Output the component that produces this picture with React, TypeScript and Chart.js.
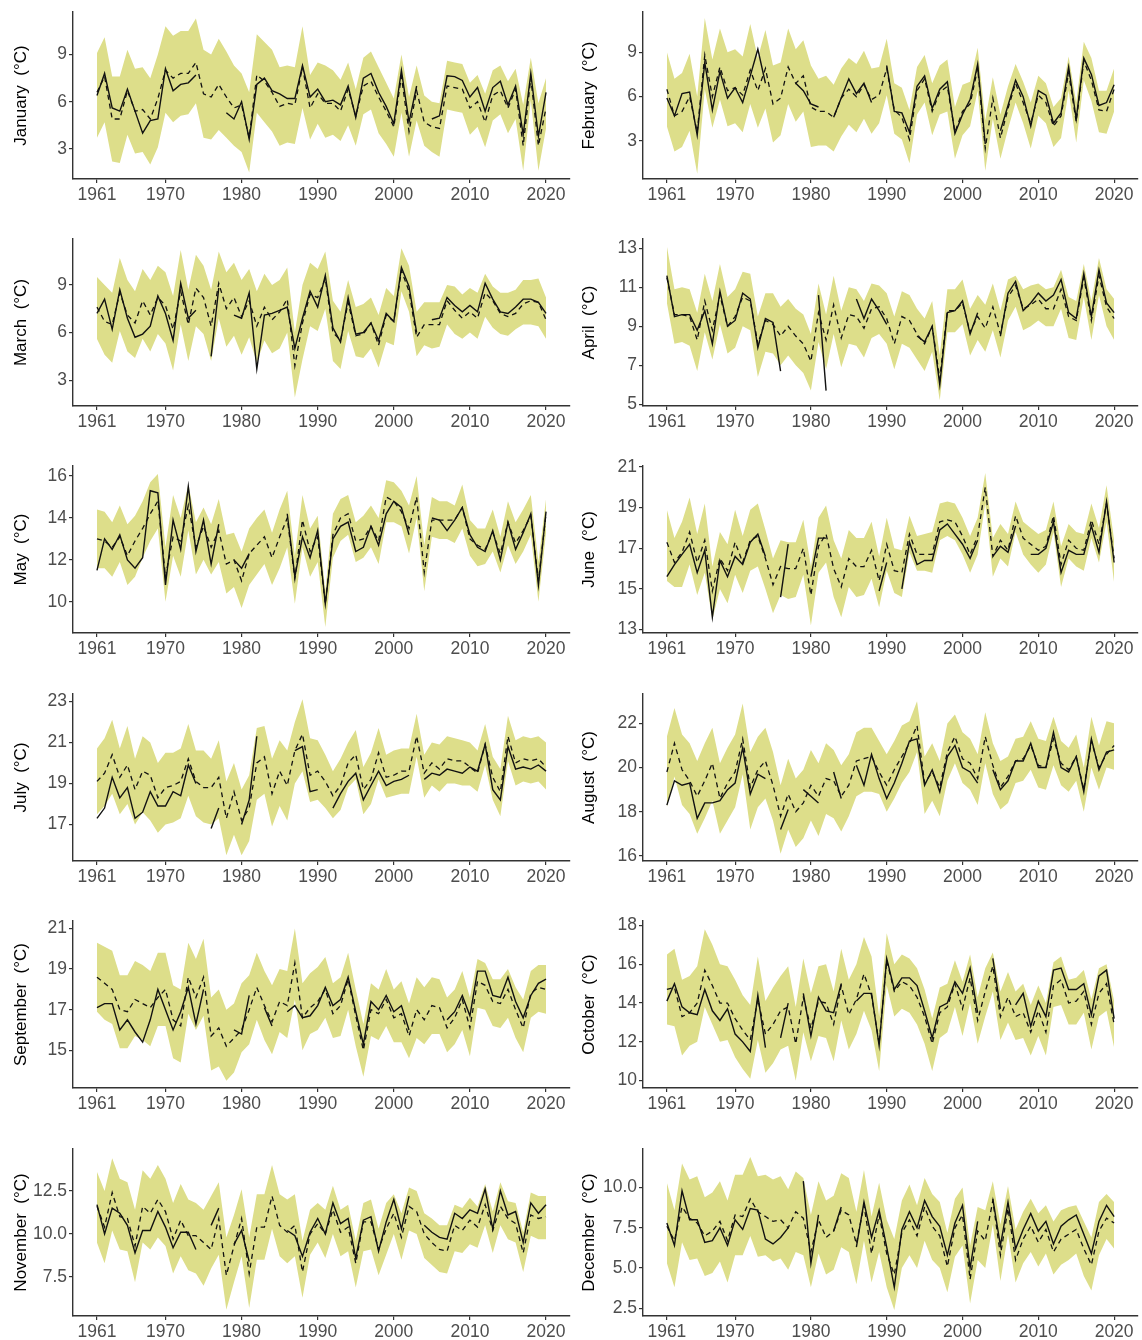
import React, { useEffect, useRef } from 'react';
import { Chart, registerables } from 'chart.js';

Chart.register(...registerables);

// ---------- data ----------
const years = [
  1961, 1962, 1963, 1964, 1965, 1966, 1967, 1968, 1969, 1970,
  1971, 1972, 1973, 1974, 1975, 1976, 1977, 1978, 1979, 1980,
  1981, 1982, 1983, 1984, 1985, 1986, 1987, 1988, 1989, 1990,
  1991, 1992, 1993, 1994, 1995, 1996, 1997, 1998, 1999, 2000,
  2001, 2002, 2003, 2004, 2005, 2006, 2007, 2008, 2009, 2010,
  2011, 2012, 2013, 2014, 2015, 2016, 2017, 2018, 2019, 2020,
];
const xTickYears = [1961, 1970, 1980, 1990, 2000, 2010, 2020];

const janLower = [3.7, 4.7, 2.2, 2.1, 3.9, 2.7, 2.8, 2.0, 3.1, 5.3, 4.7, 5.1, 5.2, 5.9, 3.7, 3.6, 4.2, 3.7, 3.2, 2.8, 1.5, 5.3, 4.7, 4.1, 3.2, 3.4, 3.3, 5.6, 3.6, 4.6, 3.7, 3.9, 3.5, 4.5, 3.2, 5.2, 5.5, 4.0, 3.3, 2.5, 5.3, 2.5, 4.8, 3.2, 2.8, 2.5, 5.5, 5.4, 5.3, 3.9, 4.4, 3.1, 4.8, 5.2, 4.0, 4.9, 1.6, 6.1, 1.6, 4.3];
const janUpper = [9.1, 10.1, 7.6, 7.6, 9.3, 8.1, 8.2, 7.5, 9.0, 10.8, 10.2, 10.5, 10.5, 11.3, 9.3, 9.0, 10.0, 9.2, 8.3, 7.8, 6.6, 10.3, 9.8, 9.3, 8.2, 8.3, 8.2, 10.8, 7.7, 8.5, 8.3, 8.0, 7.4, 8.5, 6.8, 8.8, 9.2, 8.2, 7.2, 6.2, 9.0, 6.3, 8.3, 6.4, 6.0, 5.9, 8.6, 8.5, 8.4, 7.2, 7.7, 6.5, 8.0, 8.3, 7.3, 8.1, 5.8, 8.8, 5.9, 7.5];
const janObs = [6.4, 7.8, 5.6, 5.4, 6.8, 5.4, 4.0, 4.8, 4.9, 8.1, 6.7, 7.1, 7.2, 7.7, null, null, null, 5.3, 4.9, 6.0, 3.6, 7.1, 7.5, 6.7, 6.5, 6.2, 6.2, 8.3, 6.3, 6.8, 6.0, 6.1, 5.8, 7.0, 5.0, 7.5, 7.8, 6.6, 5.7, 4.6, 8.0, 4.7, 7.0, null, 4.9, 5.1, 7.65, 7.6, 7.35, 6.3, 6.9, 5.4, 6.9, 7.3, 5.8, 7.0, 3.9, 7.8, 3.8, 6.6];
const janSim = [6.6, 7.6, 4.9, 4.9, 6.7, 5.4, 5.5, 4.9, 6.2, 8.0, 7.5, 7.8, 7.8, 8.5, 6.5, 6.3, 7.1, 6.3, 5.6, 5.8, 3.7, 7.7, 7.3, 6.6, 5.7, 5.9, 5.8, 8.2, 5.6, 6.5, 5.9, 5.9, 5.4, 6.8, 5.1, 7.0, 7.3, 6.3, 5.4, 4.4, 7.6, 4.1, 6.7, 4.7, 4.4, 4.3, 7.0, 6.9, 6.8, 5.6, 6.0, 4.7, 6.4, 6.7, 5.6, 6.8, 3.2, 7.5, 3.2, 5.6];

const febLower = [4.0, 2.3, 2.6, 3.7, 0.8, 6.5, 3.9, 5.8, 4.0, 4.2, 3.6, 5.5, 3.9, 5.2, 2.9, 3.4, 5.5, 4.3, 5.0, 2.6, 2.7, 2.7, 2.3, 3.3, 4.1, 3.6, 4.5, 3.5, 4.2, 6.1, 3.5, 3.1, 1.5, 4.8, 5.6, 3.4, 4.8, 5.0, 1.8, 3.4, 4.0, 6.4, 1.0, 4.5, 1.8, 3.8, 5.6, 4.2, 2.5, 4.7, 4.2, 2.6, 3.2, 6.4, 2.9, 7.1, 5.7, 3.6, 3.5, 5.0];
const febUpper = [9.0, 7.2, 7.6, 8.9, 6.0, 11.3, 8.5, 10.6, 9.0, 9.2, 8.7, 10.9, 8.6, 10.5, 8.1, 8.3, 10.6, 9.2, 9.8, 8.1, 7.2, 7.4, 6.8, 7.9, 8.6, 8.2, 9.1, 7.9, 8.0, 9.9, 6.9, 6.6, 5.1, 8.0, 8.8, 6.9, 8.1, 8.5, 5.3, 6.8, 7.0, 9.3, 4.4, 7.3, 4.8, 6.7, 8.2, 7.0, 5.6, 7.4, 6.9, 5.3, 5.9, 8.7, 5.6, 9.7, 8.6, 6.4, 6.4, 7.9];
const febObs = [5.9, 4.7, 6.2, 6.3, 3.4, 8.3, 5.1, 7.7, 5.9, 6.6, 5.6, 7.4, 9.2, 6.9, null, null, null, 6.9, 6.4, 5.5, 5.3, null, 4.6, 5.9, 7.2, 6.2, 6.9, 5.6, null, 8.1, 5.0, 4.9, 3.6, 6.7, 7.4, 5.2, 6.5, 7.0, 3.5, 4.8, 5.8, 8.2, 2.8, null, 3.7, 5.4, 7.1, 6.0, 4.0, 6.4, 6.1, 4.2, 4.9, 8.0, 4.5, 8.6, 7.5, 5.4, 5.6, 6.8];
const febSim = [6.5, 4.7, 5.0, 6.0, 3.6, 8.8, 6.0, 8.0, 6.4, 6.6, 6.1, 7.8, 6.4, 7.9, 5.5, 5.9, 8.0, 6.9, 7.4, 5.3, 5.0, 5.0, 4.6, 5.9, 6.5, 6.0, 6.8, 5.8, 6.1, 7.9, 5.1, 4.6, 3.1, 6.4, 7.2, 5.0, 6.3, 6.7, 3.6, 5.0, 5.5, 7.9, 2.5, 5.9, 3.2, 5.2, 6.9, 5.6, 4.2, 6.1, 5.6, 4.0, 4.7, 7.6, 4.3, 8.4, 7.1, 5.1, 5.0, 6.5];

const marLower = [5.6, 4.6, 4.1, 6.1, 4.8, 4.4, 5.6, 4.8, 5.9, 5.3, 3.6, 6.5, 4.2, 6.4, 5.9, 4.2, 6.9, 5.1, 5.8, 4.6, 5.7, 4.1, 5.5, 4.7, 5.0, 6.0, 1.9, 4.3, 6.4, 6.1, 7.5, 4.2, 3.7, 6.1, 4.5, 4.4, 5.0, 3.8, 5.4, 5.2, 8.6, 7.3, 4.5, 5.2, 5.0, 5.1, 6.5, 5.9, 5.6, 6.0, 5.6, 7.0, 6.3, 5.9, 5.8, 6.2, 6.5, 6.5, 6.4, 5.6];
const marUpper = [9.5, 9.0, 8.5, 10.7, 9.3, 8.6, 10.0, 9.3, 10.2, 9.8, 8.3, 11.2, 8.7, 10.9, 10.2, 8.7, 11.1, 9.8, 10.4, 9.3, 10.0, 8.6, 9.7, 9.0, 9.3, 10.1, 6.0, 9.0, 10.4, 10.0, 11.1, 8.0, 7.3, 9.3, 7.6, 7.8, 8.2, 7.1, 8.8, 8.3, 11.3, 10.2, 7.3, 7.9, 7.9, 7.9, 9.0, 8.9, 8.4, 8.8, 8.5, 9.7, 8.9, 8.5, 8.5, 8.7, 9.3, 9.3, 9.4, 8.2];
const marObs = [7.2, 8.1, 6.2, 8.7, 6.9, 5.7, 5.9, 6.4, 8.3, 7.2, 5.5, 9.1, 6.9, 7.4, null, 4.5, 8.8, null, 7.1, 6.9, 8.5, 3.7, 7.1, 7.2, 7.4, 7.6, 5.0, 6.9, 8.6, 7.6, 9.6, 6.3, 5.4, 8.2, 5.9, 6.0, 6.6, 5.5, 7.2, 6.7, 10.1, 8.9, 6.0, null, 6.8, 6.9, 8.2, 7.7, 7.3, 7.7, 7.3, 9.1, 8.1, 7.3, 7.2, 7.6, 8.1, 8.1, 7.9, 7.2];
const marSim = [7.6, 6.7, 6.5, 8.5, 7.1, 6.6, 8.0, 7.1, 8.2, 7.7, 6.2, 8.6, 6.5, 8.8, 8.2, 6.4, 9.1, 7.5, 8.2, 7.0, 8.0, 6.4, 7.6, 6.8, 7.3, 8.1, 3.9, 6.6, 8.4, 8.2, 9.4, 6.0, 5.5, 7.9, 5.8, 5.9, 6.6, 5.2, 7.1, 6.7, 9.9, 8.6, 5.7, 6.5, 6.5, 6.5, 8.0, 7.4, 6.9, 7.3, 6.9, 8.5, 8.0, 7.2, 7.0, 7.2, 7.8, 8.0, 7.9, 6.8];

const aprLower = [10.2, 8.1, 8.2, 8.0, 6.7, 8.7, 7.3, 9.1, 7.6, 7.9, 9.0, 8.8, 6.4, 7.7, 7.6, 7.0, 7.5, 7.0, 6.6, 5.7, 8.2, 6.8, 8.6, 6.9, 8.1, 8.0, 7.4, 8.4, 8.6, 8.1, 6.8, 8.1, 7.9, 7.3, 6.7, 7.7, 5.2, 8.7, 8.7, 9.1, 7.5, 8.3, 7.7, 8.8, 7.4, 9.3, 10.0, 8.8, 9.0, 9.3, 9.0, 9.0, 9.9, 8.4, 8.3, 10.5, 8.3, 10.6, 9.0, 8.3];
const aprUpper = [13.1, 10.9, 11.0, 10.9, 9.7, 11.7, 10.3, 12.2, 10.5, 10.9, 11.8, 11.7, 9.5, 10.7, 10.7, 10.0, 10.4, 9.9, 9.6, 8.6, 11.2, 9.6, 11.6, 9.8, 11.0, 10.9, 10.3, 11.2, 11.1, 10.7, 9.5, 10.8, 10.6, 9.9, 9.4, 10.3, 7.5, 10.9, 10.9, 11.4, 9.9, 10.6, 10.1, 11.2, 9.8, 11.4, 11.6, 10.9, 11.1, 11.2, 10.9, 11.0, 11.9, 10.5, 10.3, 12.2, 10.3, 12.5, 10.9, 10.4];
const aprObs = [11.6, 9.5, 9.6, 9.6, 8.8, 9.8, 8.1, 10.8, 9.0, 9.3, 10.7, 10.4, 7.9, 9.4, 9.2, 6.7, null, null, null, null, 10.6, 5.7, null, null, null, 10.4, 9.4, 10.4, 9.8, 9.1, null, null, null, 8.5, 8.2, 9.0, 6.0, 9.7, 9.8, 10.3, 8.6, 9.7, null, null, 8.5, 10.7, 11.3, 9.8, 10.2, 10.7, 10.3, 10.6, 11.4, 9.7, 9.4, 11.7, 9.5, 11.9, 10.2, 9.7];
const aprSim = [11.5, 9.6, 9.6, 9.5, 8.3, 10.3, 8.8, 10.6, 9.0, 9.5, 10.5, 10.3, 8.1, 9.3, 9.1, 8.5, 9.0, 8.5, 8.1, 7.2, 9.7, 8.3, 10.1, 8.4, 9.6, 9.5, 8.9, 9.9, 10.0, 9.4, 8.1, 9.5, 9.3, 8.6, 8.1, 9.0, 6.3, 9.8, 9.8, 10.2, 8.7, 9.5, 8.9, 10.0, 8.6, 10.5, 11.1, 9.9, 10.1, 10.4, 9.9, 9.9, 10.9, 9.5, 9.3, 11.5, 9.3, 11.6, 10.0, 9.4];

const mayLower = [11.6, 11.6, 11.2, 11.9, 10.8, 11.2, 12.1, 12.9, 13.5, 10.0, 12.2, 11.2, 13.4, 11.3, 12.0, 11.3, 11.9, 10.4, 10.7, 9.7, 10.8, 11.3, 11.8, 10.8, 11.6, 12.6, 9.9, 12.6, 11.2, 11.9, 8.8, 12.1, 12.9, 13.2, 11.9, 12.1, 12.6, 11.8, 13.8, 13.8, 13.6, 12.3, 14.0, 10.5, 13.1, 13.0, 13.0, 12.8, 13.5, 12.2, 11.7, 11.8, 12.4, 11.4, 12.7, 11.8, 12.4, 13.2, 10.0, 13.3];
const mayUpper = [14.4, 14.3, 13.8, 14.6, 13.7, 14.1, 14.8, 15.7, 16.1, 12.6, 15.1, 14.0, 15.6, 13.8, 14.5, 13.7, 14.9, 13.2, 13.3, 12.4, 13.5, 14.0, 14.4, 13.3, 14.4, 15.3, 12.2, 15.1, 13.5, 14.1, 10.5, 14.2, 14.9, 15.1, 13.8, 14.1, 14.6, 14.0, 15.8, 15.7, 15.3, 14.6, 16.0, 12.7, 15.0, 14.8, 14.8, 14.6, 15.6, 13.9, 13.5, 13.5, 14.4, 13.1, 14.8, 13.8, 14.4, 15.1, 11.9, 14.9];
const mayObs = [11.5, 13.0, 12.5, 13.2, 12.0, 11.6, 12.1, 15.3, 15.2, 10.8, 13.9, 12.5, 15.5, 12.4, 13.9, 11.8, 13.7, null, 12.0, 11.6, 12.3, null, null, null, null, 14.2, 11.2, 13.1, 12.1, 13.4, 9.9, 13.0, 13.6, 13.8, 12.4, 12.6, 13.6, 12.7, 14.2, 14.8, 14.5, 13.2, null, null, 14.0, 13.9, 13.4, 13.9, 14.5, 13.2, 12.6, 12.4, 13.4, 12.0, 13.8, 12.5, 13.3, 14.2, 10.8, 14.3];
const maySim = [13.0, 12.9, 12.6, 13.1, 12.2, 12.9, 13.5, 14.2, 14.8, 11.2, 13.1, 12.9, 14.6, 12.6, 13.6, 12.6, 13.4, 11.8, 12.0, 11.0, 12.3, 12.7, 13.1, 12.1, 13.1, 14.0, 11.1, 13.9, 12.4, 13.1, 9.9, 13.2, 14.0, 14.2, 12.9, 13.0, 13.6, 12.9, 15.0, 14.8, 14.3, 13.5, 15.0, 11.4, 13.9, 13.9, 13.9, 13.9, 14.5, 13.0, 12.7, 12.5, 13.3, 12.3, 13.8, 12.8, 13.4, 14.1, 11.0, 14.2];

const junLower = [15.4, 15.1, 15.1, 16.2, 14.7, 15.8, 13.5, 15.0, 14.3, 15.7, 14.8, 15.9, 16.1, 15.0, 13.8, 14.7, 14.5, 14.6, 15.7, 13.2, 15.8, 16.3, 14.6, 13.6, 15.1, 14.6, 14.7, 15.5, 14.1, 15.9, 14.8, 14.6, 16.8, 15.9, 15.9, 15.8, 17.4, 17.6, 17.4, 16.7, 15.8, 16.7, 19.2, 15.6, 16.5, 16.1, 17.8, 16.7, 16.2, 15.8, 16.2, 17.8, 15.1, 16.5, 16.1, 15.9, 17.5, 16.3, 18.3, 15.3];
const junUpper = [18.9, 17.5, 18.3, 19.5, 17.7, 19.2, 16.1, 17.8, 17.2, 18.9, 17.6, 18.9, 19.2, 17.9, 16.5, 17.4, 17.3, 17.3, 18.4, 16.1, 18.5, 19.1, 17.4, 16.5, 17.9, 17.5, 17.5, 18.3, 16.6, 18.5, 17.0, 16.9, 18.6, 17.6, 17.7, 17.8, 19.2, 19.3, 19.2, 18.5, 17.6, 18.5, 20.7, 17.5, 18.2, 17.7, 19.3, 18.3, 18.0, 17.7, 17.9, 19.3, 17.1, 18.2, 17.8, 17.7, 19.2, 18.0, 20.1, 17.4];
const junObs = [15.6, 16.2, 16.7, 17.2, 15.8, 16.9, 13.6, 16.4, 15.6, 16.6, 16.2, 17.3, 17.7, 16.6, null, 14.6, 17.2, null, null, 15.6, 17.5, 17.5, null, null, null, null, null, null, 14.9, 16.3, null, 15.0, 17.3, 16.2, 16.4, 16.4, 17.9, 18.2, 17.7, 17.2, 16.5, 17.4, null, 16.6, 17.1, 16.8, 18.1, null, 16.7, 16.7, 17.0, 18.3, 15.8, 16.9, 16.7, 16.7, 18.1, 16.8, 19.3, 16.3];
const junSim = [17.3, 16.3, 16.8, 17.8, 16.3, 17.4, 14.9, 16.5, 15.9, 17.3, 16.3, 17.4, 17.6, 16.5, 15.2, 16.1, 16.0, 16.0, 17.0, 14.7, 17.1, 17.7, 16.0, 15.1, 16.5, 16.1, 16.1, 16.9, 15.4, 17.2, 15.9, 15.8, 17.7, 16.7, 16.7, 16.7, 18.3, 18.4, 18.3, 17.6, 16.7, 17.6, 20.0, 16.6, 17.4, 16.9, 18.6, 17.5, 17.2, 16.9, 17.1, 18.6, 16.2, 17.4, 17.0, 16.9, 18.4, 17.2, 19.2, 16.5];

const julLower = [17.5, 17.9, 18.5, 17.5, 18.0, 17.0, 17.6, 17.2, 16.6, 17.0, 17.1, 17.3, 18.4, 17.4, 17.1, 17.0, 17.3, 15.5, 16.5, 15.5, 16.2, 18.2, 18.5, 16.9, 17.9, 17.2, 19.0, 19.6, 18.1, 18.2, 17.8, 17.3, 17.7, 18.8, 19.2, 17.5, 18.0, 19.2, 18.3, 18.4, 18.5, 18.5, 20.3, 18.3, 18.9, 18.6, 19.0, 19.0, 18.9, 18.9, 18.6, 19.9, 18.2, 17.4, 20.1, 18.9, 19.1, 19.0, 19.1, 18.7];
const julUpper = [20.7, 21.2, 22.1, 20.7, 21.8, 20.2, 21.3, 21.0, 20.0, 20.5, 20.5, 20.7, 21.9, 20.6, 20.6, 20.2, 21.1, 19.1, 20.0, 18.7, 19.4, 21.7, 21.8, 20.2, 21.1, 20.6, 22.0, 23.1, 21.2, 21.1, 20.4, 19.6, 20.2, 21.0, 21.6, 19.8, 20.5, 21.7, 20.4, 20.6, 20.7, 20.7, 22.4, 20.4, 21.0, 20.9, 21.3, 21.2, 21.1, 21.0, 20.6, 21.9, 20.3, 19.7, 22.3, 21.1, 21.3, 21.2, 21.3, 21.0];
const julObs = [17.3, 17.8, 19.3, 18.3, 18.8, 17.3, 17.6, 18.6, 17.9, 17.9, 18.6, 18.4, 19.9, 19.0, null, 16.8, 17.8, null, null, 17.0, 18.2, 21.3, null, null, null, null, 20.6, 20.8, 18.6, 18.7, null, 17.8, 18.5, 19.1, 19.5, 18.2, 18.9, 19.6, 18.9, 19.1, 19.2, 19.4, null, 19.2, 19.5, 19.4, 19.7, 19.6, 19.5, 19.8, 19.6, 20.9, 18.7, 18.2, 20.8, 19.7, 19.8, 19.7, 19.9, 19.6];
const julSim = [19.1, 19.5, 20.4, 19.3, 19.9, 18.7, 19.6, 19.4, 18.3, 18.8, 18.9, 19.1, 20.2, 19.1, 18.8, 18.8, 19.3, 17.3, 18.6, 17.2, 17.8, 20.0, 20.3, 18.5, 19.6, 18.9, 20.6, 21.4, 19.4, 19.6, 19.1, 18.4, 18.9, 20.0, 20.4, 18.7, 19.2, 20.5, 19.3, 19.4, 19.6, 19.6, 21.3, 19.5, 20.0, 19.7, 20.2, 20.1, 20.1, 19.8, 19.5, 20.9, 19.3, 18.6, 21.3, 20.0, 20.2, 20.1, 20.2, 19.8];

const augLower = [18.2, 19.6, 18.3, 17.9, 17.0, 17.7, 18.5, 17.0, 17.6, 18.2, 19.7, 17.2, 18.2, 18.6, 17.6, 16.1, 17.2, 16.4, 16.8, 17.6, 16.9, 17.9, 17.7, 17.1, 17.8, 18.7, 18.9, 18.9, 18.8, 18.0, 18.6, 19.3, 19.8, 20.7, 17.9, 18.5, 17.8, 19.4, 20.2, 19.3, 19.0, 18.3, 20.2, 18.8, 18.1, 18.4, 19.3, 19.4, 19.9, 19.1, 19.0, 20.1, 19.2, 18.9, 19.4, 18.0, 20.0, 19.0, 20.0, 19.9];
const augUpper = [21.4, 22.7, 21.5, 21.1, 20.3, 21.1, 21.8, 20.2, 20.9, 21.5, 22.9, 20.7, 21.4, 21.8, 20.7, 19.2, 20.4, 19.5, 19.9, 20.8, 20.2, 21.1, 20.8, 20.1, 20.6, 21.6, 21.8, 21.8, 21.2, 20.6, 21.2, 21.9, 22.1, 23.0, 20.5, 21.1, 20.3, 22.0, 22.4, 21.6, 21.3, 20.6, 22.5, 21.1, 20.3, 20.5, 21.3, 21.4, 22.1, 21.3, 21.2, 22.3, 21.2, 20.9, 21.5, 20.0, 22.3, 21.0, 22.1, 22.0];
const augObs = [18.3, 19.4, 19.2, 19.3, 17.7, 18.4, 18.4, 18.5, 19.0, 19.3, 20.9, 18.8, 19.7, 19.5, null, 17.2, 18.1, null, 19.0, 18.7, 18.4, null, 19.8, 18.6, null, 20.1, 19.2, 20.6, 19.5, 18.6, 19.3, 20.2, 21.2, 21.3, 19.2, 19.9, 18.9, 20.5, 21.0, 20.0, 19.8, 19.3, null, 19.9, 19.0, 19.4, 20.3, 20.3, 21.1, 20.0, 20.0, 21.6, 20.0, 19.8, 20.5, 18.9, 21.3, 19.9, 20.7, 20.8];
const augSim = [19.8, 21.1, 19.9, 19.4, 18.7, 19.4, 20.2, 18.6, 19.3, 19.8, 21.3, 19.1, 19.9, 20.3, 19.2, 17.8, 18.8, 18.0, 18.4, 19.2, 18.7, 19.5, 19.4, 18.7, 19.2, 20.3, 20.4, 20.5, 19.8, 19.2, 19.9, 20.5, 21.1, 21.9, 19.3, 19.8, 19.1, 20.7, 21.4, 20.4, 20.2, 19.5, 21.4, 20.1, 19.1, 19.6, 20.3, 20.4, 21.0, 20.1, 20.0, 21.3, 20.2, 19.9, 20.5, 19.0, 21.2, 20.0, 20.6, 21.0];

const sepLower = [16.9, 16.5, 16.3, 15.1, 15.1, 15.7, 15.5, 15.2, 16.2, 16.2, 14.6, 14.4, 16.8, 16.0, 16.7, 14.0, 14.2, 13.5, 13.9, 14.9, 15.3, 16.5, 15.5, 14.8, 15.9, 15.6, 17.5, 15.0, 15.8, 16.0, 16.6, 15.6, 15.7, 17.0, 15.2, 13.7, 15.7, 15.5, 16.2, 15.4, 15.4, 14.6, 15.6, 15.3, 15.8, 15.8, 14.9, 15.3, 16.0, 14.7, 17.1, 17.0, 16.2, 16.1, 16.6, 15.6, 14.9, 16.6, 16.9, 16.8];
const sepUpper = [20.3, 20.1, 19.9, 18.7, 18.7, 19.4, 19.2, 18.9, 19.8, 19.8, 18.2, 18.0, 20.3, 19.5, 20.5, 17.6, 18.0, 17.0, 17.3, 18.3, 18.7, 19.8, 18.9, 18.2, 19.0, 18.9, 21.0, 18.3, 18.8, 19.1, 19.6, 18.3, 18.6, 19.8, 18.0, 16.3, 18.3, 18.0, 19.0, 18.0, 18.4, 17.3, 18.6, 18.1, 18.6, 18.5, 17.6, 18.0, 18.9, 17.6, 19.5, 19.3, 18.5, 18.5, 19.0, 18.1, 17.5, 18.9, 19.2, 19.2];
const sepObs = [17.1, 17.3, 17.3, 16.0, 16.5, 15.9, 15.4, 16.5, 18.0, 17.0, 16.0, 16.9, 18.1, 16.3, 18.0, null, null, null, 16.0, 15.8, 17.7, null, 17.1, 16.2, null, 16.9, 17.2, 16.6, 16.7, 17.2, 18.1, 17.2, 17.5, 18.6, 16.9, 15.3, 17.4, 17.0, 17.7, 16.9, 17.2, 16.0, null, null, null, null, 16.5, 16.9, 17.7, 16.7, 18.9, 18.9, 17.7, 17.6, 18.6, 17.4, 16.6, 17.7, 18.3, 18.5];
const sepSim = [18.6, 18.3, 18.0, 17.0, 16.9, 17.5, 17.3, 17.1, 17.6, 18.0, 16.5, 16.2, 18.6, 17.6, 18.6, 15.7, 16.1, 15.2, 15.6, 16.0, 17.0, 18.1, 17.2, 16.4, 17.4, 17.2, 19.3, 16.6, 17.1, 17.4, 18.0, 16.8, 17.2, 18.5, 16.7, 15.0, 17.0, 16.8, 17.5, 16.6, 16.8, 15.7, 17.0, 16.5, 17.2, 17.1, 16.1, 16.6, 17.5, 16.1, 18.4, 18.2, 17.4, 17.3, 18.0, 17.0, 16.1, 17.8, 18.1, 18.0];

const octLower = [12.9, 12.8, 11.3, 11.8, 12.0, 13.8, 12.9, 12.0, 12.1, 11.2, 10.6, 10.1, 12.1, 10.4, 10.9, 11.6, 11.8, 10.0, 12.5, 11.0, 12.3, 12.2, 11.0, 13.1, 11.6, 12.4, 13.6, 12.6, 10.5, 14.9, 13.3, 13.7, 13.5, 12.9, 11.9, 10.5, 12.2, 12.5, 13.8, 12.3, 14.0, 11.9, 13.3, 14.6, 12.1, 13.0, 12.1, 12.2, 11.3, 12.3, 11.3, 13.8, 13.9, 12.9, 12.9, 13.5, 11.6, 13.3, 13.6, 11.7];
const octUpper = [16.5, 16.8, 15.2, 15.4, 15.9, 17.8, 17.0, 16.0, 15.9, 15.2, 14.4, 13.9, 16.4, 14.1, 14.8, 15.4, 15.9, 13.8, 16.3, 14.5, 15.9, 16.0, 14.6, 16.8, 15.2, 16.0, 17.4, 16.4, 13.3, 17.6, 16.0, 16.5, 16.3, 15.8, 14.7, 13.2, 14.8, 15.0, 16.2, 15.1, 16.5, 14.3, 15.8, 16.6, 14.6, 15.6, 14.6, 15.0, 13.9, 14.9, 14.0, 16.1, 16.4, 15.2, 15.3, 15.7, 14.2, 15.8, 16.0, 14.1];
const octObs = [14.1, 15.0, 13.8, 13.5, 13.4, 14.7, 13.6, 13.1, 13.7, 12.4, 12.0, 11.5, 14.4, 11.7, null, 12.2, 14.0, null, 14.5, 12.3, 14.3, 13.6, 13.5, 15.0, null, 14.1, 14.5, 14.5, 11.8, 16.3, 14.7, 15.3, 15.3, 14.9, 13.6, 12.2, 13.8, 14.0, 15.1, 14.5, 15.8, 13.5, null, 16.3, 13.7, null, 13.9, 14.5, 12.8, 14.1, 13.3, 15.7, 15.8, 14.7, 14.7, 15.0, 13.4, 15.4, 15.7, 13.2];
const octSim = [14.7, 14.8, 13.3, 13.5, 14.0, 15.7, 14.9, 14.0, 14.0, 13.2, 12.6, 12.1, 14.2, 12.4, 12.9, 13.6, 13.8, 11.9, 14.3, 12.7, 14.1, 14.0, 12.9, 14.9, 13.4, 14.2, 15.5, 14.4, 11.9, 16.2, 14.6, 15.1, 14.9, 14.3, 13.3, 11.9, 13.5, 13.8, 15.0, 13.7, 15.3, 13.1, 14.6, 15.9, 13.3, 14.3, 13.3, 13.5, 12.5, 13.6, 12.5, 14.9, 15.2, 14.0, 14.1, 14.6, 12.9, 14.5, 15.0, 12.9];

const novLower = [9.5, 8.3, 10.2, 9.1, 9.0, 7.2, 9.5, 9.1, 9.8, 9.3, 7.7, 8.7, 7.9, 7.7, 7.0, 8.0, 8.8, 5.6, 7.2, 8.7, 5.7, 8.5, 8.5, 10.3, 8.7, 8.3, 8.7, 6.3, 8.8, 9.5, 8.6, 10.0, 8.7, 9.0, 6.9, 9.0, 9.1, 7.6, 8.8, 10.0, 8.5, 10.2, 10.0, 8.6, 8.2, 7.8, 7.7, 9.0, 8.9, 9.4, 9.2, 10.5, 8.9, 10.5, 9.7, 9.5, 7.8, 9.9, 9.7, 9.7];
const novUpper = [13.6, 12.5, 14.4, 13.2, 13.0, 11.4, 13.7, 13.2, 14.0, 13.2, 11.8, 12.9, 12.0, 11.8, 11.4, 12.2, 13.0, 9.8, 11.1, 12.6, 9.8, 12.3, 12.3, 14.0, 12.3, 12.0, 12.3, 9.6, 11.4, 11.8, 11.4, 12.8, 11.4, 11.7, 9.6, 11.8, 12.0, 10.3, 11.8, 12.3, 11.2, 12.7, 12.5, 11.2, 10.9, 10.5, 10.5, 11.7, 11.5, 12.1, 11.6, 12.9, 11.3, 13.0, 11.9, 11.8, 10.1, 12.4, 12.2, 12.2];
const novObs = [11.7, 10.0, 11.5, 11.2, 10.5, 8.9, 10.2, 10.2, 11.3, 10.4, 9.2, 10.1, 10.1, 9.1, null, 10.5, 11.5, null, 9.4, 10.2, 8.4, null, null, null, null, 10.2, 9.9, 8.7, 10.1, 10.9, 10.0, 11.8, 10.6, 10.9, 8.6, 10.8, 11.0, 9.0, 10.7, 12.0, 10.3, 12.2, null, 10.5, 10.1, 9.8, 9.7, 11.2, 10.9, 11.4, 11.2, 12.6, 10.3, 12.5, 11.1, 11.3, 9.5, 11.8, 11.2, 11.7];
const novSim = [11.6, 10.4, 12.4, 11.0, 10.9, 9.3, 11.6, 11.2, 12.0, 11.3, 9.7, 10.8, 9.9, 9.9, 9.5, 9.1, 10.9, 7.6, 9.3, 10.9, 7.7, 10.4, 10.4, 12.2, 10.5, 10.1, 10.5, 7.8, 10.0, 10.6, 10.0, 11.4, 10.1, 10.4, 8.3, 10.7, 10.7, 9.1, 10.3, 11.2, 9.8, 11.6, 11.3, 10.0, 9.5, 9.1, 9.0, 10.5, 10.2, 10.8, 10.4, 11.7, 10.2, 11.6, 10.9, 10.6, 8.9, 11.1, 10.9, 11.0];

const decLower = [5.3, 3.8, 6.6, 5.5, 5.6, 4.5, 4.7, 5.4, 4.1, 5.8, 5.8, 7.0, 5.7, 5.8, 5.4, 5.6, 4.9, 6.0, 5.8, 3.8, 5.9, 4.6, 4.9, 6.3, 6.0, 4.0, 6.7, 4.1, 6.0, 3.8, 2.4, 5.0, 5.8, 5.0, 6.7, 5.5, 5.0, 3.5, 5.7, 6.4, 2.8, 5.5, 5.0, 7.7, 4.2, 7.1, 4.1, 5.3, 6.0, 5.1, 5.9, 4.6, 5.2, 5.5, 5.9, 4.5, 3.6, 5.8, 6.8, 6.2];
const decUpper = [10.3, 8.6, 11.5, 10.5, 10.7, 9.4, 9.7, 10.4, 9.2, 10.8, 10.8, 11.9, 10.7, 10.8, 10.5, 10.7, 9.9, 11.0, 10.6, 8.3, 10.4, 9.2, 9.5, 10.9, 10.6, 8.5, 11.1, 8.2, 10.3, 8.0, 6.8, 9.2, 10.2, 8.9, 10.6, 9.6, 9.1, 7.2, 9.3, 10.0, 6.4, 8.8, 8.6, 10.4, 7.7, 10.1, 7.4, 8.5, 9.3, 8.4, 8.9, 7.9, 8.6, 8.8, 8.9, 7.9, 6.9, 9.1, 9.6, 9.1];
const decObs = [7.8, 6.4, 9.8, 8.0, 8.0, 6.6, 6.7, 7.5, 6.4, 8.0, 7.4, 8.7, 8.6, 6.8, 6.5, 6.9, 7.5, null, 10.4, 5.3, 8.3, null, 7.3, 8.8, null, 6.3, 9.1, 6.9, 8.6, 6.3, 3.8, 7.4, 8.5, 7.5, 9.2, 8.2, 7.6, 5.8, 7.8, 8.9, 5.0, 7.9, null, 9.3, 6.4, 9.1, 6.2, 7.4, 8.4, 7.3, 7.9, 6.5, 7.6, 8.0, 8.3, 7.1, 5.9, 7.9, 8.9, 8.2];
const decSim = [7.6, 6.7, 8.8, 8.1, 7.8, 7.0, 7.3, 7.9, 6.7, 8.3, 8.2, 9.3, 8.5, 8.2, 7.9, 8.0, 7.5, 8.5, 8.1, 6.0, 8.0, 6.9, 7.3, 8.6, 8.3, 6.5, 8.9, 5.9, 8.3, 5.9, 4.6, 7.2, 8.0, 7.0, 8.8, 7.6, 7.0, 5.1, 7.5, 8.3, 4.3, 7.3, 6.7, 9.2, 5.8, 8.7, 5.5, 6.8, 7.6, 6.6, 7.4, 6.0, 6.8, 7.1, 7.4, 6.2, 5.2, 7.3, 8.1, 7.8];

const janYTicks = ['3', '6', '9'];
const febYTicks = ['3', '6', '9'];
const marYTicks = ['3', '6', '9'];
const aprYTicks = ['5', '7', '9', '11', '13'];
const mayYTicks = ['10', '12', '14', '16'];
const junYTicks = ['13', '15', '17', '19', '21'];
const julYTicks = ['17', '19', '21', '23'];
const augYTicks = ['16', '18', '20', '22'];
const sepYTicks = ['15', '17', '19', '21'];
const octYTicks = ['10', '12', '14', '16', '18'];
const novYTicks = ['7.5', '10.0', '12.5'];
const decYTicks = ['2.5', '5.0', '7.5', '10.0'];

type Num = number | null;
interface PanelCfg {
  title: string;
  lower: Num[];
  upper: Num[];
  obs: Num[];
  sim: Num[];
  yTicks: string[];
  yMin: number;
  yMax: number;
}

const panels: PanelCfg[] = [
  { title: 'January  (°C)', lower: janLower, upper: janUpper, obs: janObs, sim: janSim, yTicks: janYTicks, yMin: 1.08, yMax: 11.71 },
  { title: 'February  (°C)', lower: febLower, upper: febUpper, obs: febObs, sim: febSim, yTicks: febYTicks, yMin: 0.44, yMax: 11.71 },
  { title: 'March  (°C)', lower: marLower, upper: marUpper, obs: marObs, sim: marSim, yTicks: marYTicks, yMin: 1.37, yMax: 11.89 },
  { title: 'April  (°C)', lower: aprLower, upper: aprUpper, obs: aprObs, sim: aprSim, yTicks: aprYTicks, yMin: 4.91, yMax: 13.48 },
  { title: 'May  (°C)', lower: mayLower, upper: mayUpper, obs: mayObs, sim: maySim, yTicks: mayYTicks, yMin: 8.51, yMax: 16.48 },
  { title: 'June  (°C)', lower: junLower, upper: junUpper, obs: junObs, sim: junSim, yTicks: junYTicks, yMin: 12.83, yMax: 21.05 },
  { title: 'July  (°C)', lower: julLower, upper: julUpper, obs: julObs, sim: julSim, yTicks: julYTicks, yMin: 15.22, yMax: 23.36 },
  { title: 'August  (°C)', lower: augLower, upper: augUpper, obs: augObs, sim: augSim, yTicks: augYTicks, yMin: 15.77, yMax: 23.33 },
  { title: 'September  (°C)', lower: sepLower, upper: sepUpper, obs: sepObs, sim: sepSim, yTicks: sepYTicks, yMin: 13.14, yMax: 21.37 },
  { title: 'October  (°C)', lower: octLower, upper: octUpper, obs: octObs, sim: octSim, yTicks: octYTicks, yMin: 9.62, yMax: 18.23 },
  { title: 'November  (°C)', lower: novLower, upper: novUpper, obs: novObs, sim: novSim, yTicks: novYTicks, yMin: 5.24, yMax: 14.93 },
  { title: 'December  (°C)', lower: decLower, upper: decUpper, obs: decObs, sim: decSim, yTicks: decYTicks, yMin: 2.02, yMax: 12.4 },
];

// ---------- layout & style ----------
const ROW_TOPS = [12, 239, 466, 694, 921, 1149];
const PLOT_H = 167;
const PAD_TOP = 14;
const X_AXIS_H = 32;
const Y_AXIS_W = 73;
const BAND = 'rgb(221, 222, 138)';
const AXIS = '#333333';
const TICK_TXT = '#4D4D4D';
const FONT = "'Liberation Sans', Arial, Helvetica, sans-serif";
const X_MIN = 1957.85;
const X_MAX = 2023.15;

function PanelChart({ cfg, col, row }: { cfg: PanelCfg; col: number; row: number }) {
  const ref = useRef<HTMLCanvasElement>(null);
  const left = col === 0 ? 0 : 570;
  const width = col === 0 ? 575 : 572;
  const padRight = col === 0 ? 5 : 4;
  const titlePad = col === 0 ? 11.5 : 9.5;
  const top = ROW_TOPS[row] - PAD_TOP;
  const height = PAD_TOP + PLOT_H + X_AXIS_H;

  useEffect(() => {
    if (!ref.current) return;
    const pts = (arr: Num[]) => years.map((yr, i) => ({ x: yr, y: arr[i] }));
    const chart = new Chart(ref.current, {
      type: 'line',
      data: {
        datasets: [
          { data: pts(cfg.lower) as any, borderWidth: 0, borderColor: 'rgba(0,0,0,0)', pointRadius: 0, fill: false, order: 4 },
          { data: pts(cfg.upper) as any, borderWidth: 0, borderColor: 'rgba(0,0,0,0)', backgroundColor: BAND, pointRadius: 0, fill: '-1', order: 3 },
          { data: pts(cfg.sim) as any, borderColor: '#111', borderWidth: 1.3, borderDash: [5, 4], pointRadius: 0, fill: false, order: 1, spanGaps: false },
          { data: pts(cfg.obs) as any, borderColor: '#111', borderWidth: 1.4, pointRadius: 0, fill: false, order: 0, spanGaps: false },
        ],
      },
      options: {
        responsive: false,
        animation: false,
        events: [],
        layout: { padding: { top: PAD_TOP, right: padRight, bottom: 0, left: 0 } },
        plugins: { legend: { display: false }, tooltip: { enabled: false } },
        scales: {
          x: {
            type: 'linear',
            min: X_MIN,
            max: X_MAX,
            afterBuildTicks: (s: any) => { s.ticks = xTickYears.map((v) => ({ value: v })); },
            afterFit: (s: any) => { s.height = X_AXIS_H; },
            ticks: {
              autoSkip: false,
              maxRotation: 0,
              padding: 2,
              color: TICK_TXT,
              font: { family: FONT, size: 17.5 },
              callback: (v: any) => String(v),
            },
            grid: { display: true, drawOnChartArea: false, drawTicks: true, tickLength: 4, color: AXIS, lineWidth: 1.2 },
            border: { display: true, color: AXIS, width: 1.4 },
          },
          y: {
            type: 'linear',
            min: cfg.yMin,
            max: cfg.yMax,
            afterBuildTicks: (s: any) => { s.ticks = cfg.yTicks.map((t) => ({ value: parseFloat(t) })); },
            afterFit: (s: any) => { s.width = Y_AXIS_W; },
            ticks: {
              autoSkip: false,
              padding: 2,
              color: TICK_TXT,
              font: { family: FONT, size: 17.5 },
              callback: (v: any) => cfg.yTicks.find((t) => Math.abs(parseFloat(t) - v) < 1e-6) ?? String(v),
            },
            title: {
              display: true,
              text: cfg.title,
              color: '#000',
              font: { family: FONT, size: 17 },
              padding: { top: titlePad, bottom: 0 },
            },
            grid: { display: true, drawOnChartArea: false, drawTicks: true, tickLength: 4, color: AXIS, lineWidth: 1.2 },
            border: { display: true, color: AXIS, width: 1.4 },
          },
        },
      } as any,
    });
    return () => chart.destroy();
  }, [cfg]);

  return (
    <canvas
      ref={ref}
      width={width}
      height={height}
      style={{ position: 'absolute', left, top, width, height }}
    />
  );
}

export default function App() {
  return (
    <div style={{ position: 'absolute', left: 0, top: 0, width: 1142, height: 1340, background: '#ffffff', overflow: 'hidden' }}>
      {panels.map((p, i) => (
        <PanelChart key={p.title} cfg={p} col={i % 2} row={Math.floor(i / 2)} />
      ))}
    </div>
  );
}
